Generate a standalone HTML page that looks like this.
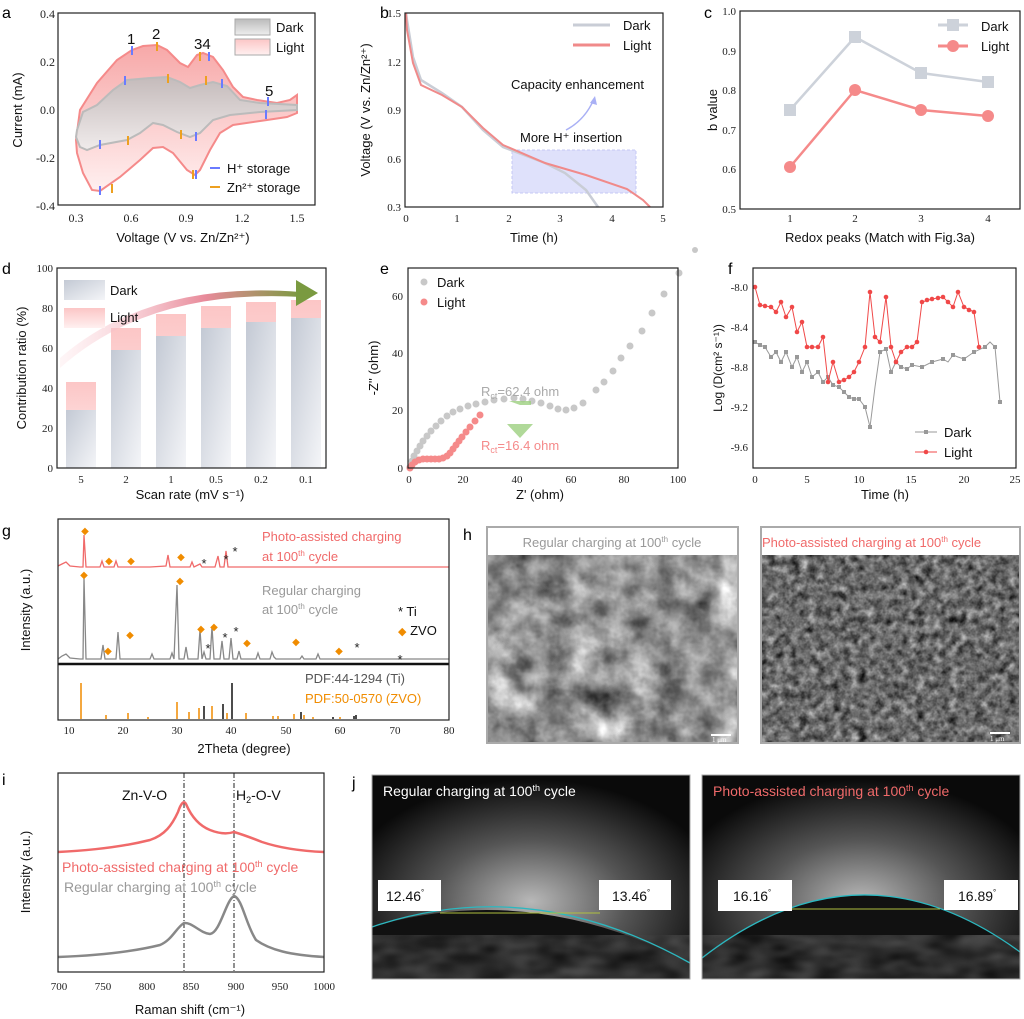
<!DOCTYPE html>
<html><head><meta charset="utf-8"><style>
body{margin:0;background:#fff}
svg{display:block}
.t{font-family:"Liberation Serif",serif;font-size:12px;fill:#222}
.s{font-family:"Liberation Sans",sans-serif;font-size:13px;fill:#111}
.L{font-family:"Liberation Sans",sans-serif;font-size:16px;fill:#000}
</style></head><body>
<svg width="1024" height="1019" viewBox="0 0 1024 1019" xmlns="http://www.w3.org/2000/svg">
<defs>
<linearGradient id="gd" x1="0" y1="0" x2="0" y2="1"><stop offset="0" stop-color="#bbb"/><stop offset="1" stop-color="#eee"/></linearGradient>
<linearGradient id="gl" x1="0" y1="0" x2="0" y2="1"><stop offset="0" stop-color="#f7a8a8"/><stop offset="1" stop-color="#fff0f0"/></linearGradient>
<linearGradient id="bd" x1="0" y1="0" x2="1" y2="1"><stop offset="0" stop-color="#c3c9d4"/><stop offset="1" stop-color="#f4f5f8"/></linearGradient>
<linearGradient id="bl" x1="0" y1="0" x2="0" y2="1"><stop offset="0" stop-color="#fcc6c6"/><stop offset="1" stop-color="#fff0f0"/></linearGradient>
<linearGradient id="arr" x1="0" y1="0" x2="1" y2="0"><stop offset="0" stop-color="#fde0e4" stop-opacity="0.3"/><stop offset="0.6" stop-color="#e88a9a"/><stop offset="1" stop-color="#7a9a40"/></linearGradient>
<radialGradient id="glow" cx="0.5" cy="0.62" r="0.6"><stop offset="0" stop-color="#b8b8b8"/><stop offset="0.5" stop-color="#555"/><stop offset="1" stop-color="#0a0a0a"/></radialGradient>
<filter id="sem1" x="0" y="0" width="1" height="1" color-interpolation-filters="sRGB"><feTurbulence type="fractalNoise" baseFrequency="0.035" numOctaves="4" seed="3"/><feColorMatrix type="matrix" values="0.33 0.33 0.33 0 0 0.33 0.33 0.33 0 0 0.33 0.33 0.33 0 0 0 0 0 0 1"/><feComponentTransfer><feFuncR type="linear" slope="1.6" intercept="-0.22"/><feFuncG type="linear" slope="1.6" intercept="-0.22"/><feFuncB type="linear" slope="1.6" intercept="-0.22"/></feComponentTransfer></filter>
<filter id="sem2" x="0" y="0" width="1" height="1" color-interpolation-filters="sRGB"><feTurbulence type="fractalNoise" baseFrequency="0.12" numOctaves="3" seed="7"/><feColorMatrix type="matrix" values="0.33 0.33 0.33 0 0 0.33 0.33 0.33 0 0 0.33 0.33 0.33 0 0 0 0 0 0 1"/><feComponentTransfer><feFuncR type="linear" slope="1.5" intercept="-0.33"/><feFuncG type="linear" slope="1.5" intercept="-0.33"/><feFuncB type="linear" slope="1.5" intercept="-0.33"/></feComponentTransfer></filter>
<filter id="blob" x="0" y="0" width="1" height="1" color-interpolation-filters="sRGB"><feTurbulence type="fractalNoise" baseFrequency="0.03 0.06" numOctaves="2" seed="5"/><feColorMatrix type="matrix" values="0.3 0.3 0.3 0 -0.2 0.3 0.3 0.3 0 -0.2 0.3 0.3 0.3 0 -0.2 0 0 0 0 1"/></filter>
<clipPath id="ca"><rect x="58" y="13" width="257" height="192"/></clipPath>
</defs>

<!-- ===== a ===== -->
<text class="L" x="2" y="18">a</text>
<path clip-path="url(#ca)" d="M76,140 L80,110 97,83 117,60 132,50 143,46 157,45 167,50 180,63 188,67 197,55 203,53 213,57 223,70 233,87 243,97 257,100 277,103 290,100 297,95 297,113 287,117 267,120 233,125 220,133 210,150 200,170 195,175 187,170 173,153 163,147 153,148 140,160 120,177 100,191 92,190 83,173 77,153Z" fill="url(#gl)" stroke="#f58a8a" stroke-width="2"/>
<path d="M77,130 L83,112 97,105 113,90 127,80 150,78 167,77 180,82 190,88 200,85 213,82 227,86 240,100 260,103 297,105 297,110 260,112 230,115 213,120 200,133 190,137 177,132 163,125 153,123 140,133 127,140 100,145 87,150 80,147 76,137Z" fill="url(#gd)" fill-opacity="0.85" stroke="#bbb" stroke-width="2"/>
<g stroke="#6a7bff" stroke-width="2">
<path d="M132,46v9M125,76v9M209,52v9M222,79v9M268,97v9M266,110v9M100,140v9M196,132v9M100,186v9M196,170v9"/></g>
<g stroke="#eda020" stroke-width="2">
<path d="M157,42v9M168,74v9M200,52v9M206,76v9M128,136v9M181,130v9M112,184v9M193,170v9"/></g>
<rect x="58" y="13" width="257" height="192" fill="none" stroke="#222" stroke-width="1.2"/>
<text class="s" x="127" y="44" style="font-size:15px">1</text><text class="s" x="152" y="39" style="font-size:15px">2</text>
<text class="s" x="194" y="49" style="font-size:15px">34</text><text class="s" x="265" y="96" style="font-size:15px">5</text>
<rect x="235" y="19" width="35" height="16" fill="url(#gd)" stroke="#aaa"/><rect x="235" y="39" width="35" height="16" fill="url(#bl)" stroke="#aaa"/>
<text class="s" x="276" y="32">Dark</text><text class="s" x="276" y="52">Light</text>
<path d="M210,168h10" stroke="#6a7bff" stroke-width="2"/><path d="M210,187h10" stroke="#eda020" stroke-width="2"/>
<text class="s" x="227" y="173">H⁺ storage</text><text class="s" x="227" y="192">Zn²⁺ storage</text>
<g class="t" text-anchor="end"><text x="55" y="18">0.4</text><text x="55" y="66">0.2</text><text x="55" y="114">0.0</text><text x="55" y="162">-0.2</text><text x="55" y="210">-0.4</text></g>
<g class="t" text-anchor="middle"><text x="76" y="222">0.3</text><text x="131" y="222">0.6</text><text x="186" y="222">0.9</text><text x="242" y="222">1.2</text><text x="297" y="222">1.5</text></g>
<text class="s" x="183" y="242" text-anchor="middle">Voltage (V  vs. Zn/Zn²⁺)</text>
<text class="s" transform="translate(22,110) rotate(-90)" text-anchor="middle">Current (mA)</text>

<!-- ===== b ===== -->
<text class="L" x="380" y="18">b</text>
<rect x="512" y="150" width="124" height="43" fill="#dfe1fb" stroke="#c4c8f4" stroke-dasharray="3,2"/>
<polyline points="406,13 407,20 413,57 421,80 442,93 462,107 483,130 503,147 545,163 565,173 586,190 598,207" fill="none" stroke="#c9cdd6" stroke-width="2.5"/>
<polyline points="406,13 407,30 413,63 421,85 442,95 462,107 483,128 503,145 545,163 586,175 627,189 643,200 650,207" fill="none" stroke="#f08a8a" stroke-width="2"/>
<path d="M566,130 Q585,120 594,99" fill="none" stroke="#a9b0f5" stroke-width="1.5"/><path d="M590,103 L595,96 597,105Z" fill="#a9b0f5"/>
<rect x="405" y="13" width="258" height="194" fill="none" stroke="#222" stroke-width="1.2"/>
<path d="M573,25h37" stroke="#c9cdd6" stroke-width="3"/><path d="M573,45h37" stroke="#f08a8a" stroke-width="3"/>
<text class="s" x="623" y="30">Dark</text><text class="s" x="623" y="50">Light</text>
<text class="s" x="511" y="89">Capacity enhancement</text><text class="s" x="520" y="142">More H⁺ insertion</text>
<g class="t" text-anchor="end" style="font-size:11px"><text x="401" y="17">1.5</text><text x="401" y="66">1.2</text><text x="401" y="114">0.9</text><text x="401" y="163">0.6</text><text x="401" y="211">0.3</text></g>
<g class="t" text-anchor="middle" style="font-size:11px"><text x="406" y="222">0</text><text x="457" y="222">1</text><text x="509" y="222">2</text><text x="560" y="222">3</text><text x="612" y="222">4</text><text x="663" y="222">5</text></g>
<text class="s" x="534" y="242" text-anchor="middle">Time (h)</text>
<text class="s" transform="translate(370,110) rotate(-90)" text-anchor="middle">Voltage (V vs. Zn/Zn²⁺)</text>

<!-- ===== c ===== -->
<text class="L" x="704" y="18">c</text>
<rect x="740" y="11" width="280" height="198" fill="none" stroke="#222" stroke-width="1.2"/>
<polyline points="790,110 855,37 921,73 988,82" fill="none" stroke="#cdd2da" stroke-width="2.5"/>
<g fill="#cdd2da"><rect x="784" y="104" width="12" height="12"/><rect x="849" y="31" width="12" height="12"/><rect x="915" y="67" width="12" height="12"/><rect x="982" y="76" width="12" height="12"/></g>
<polyline points="790,167 855,90 921,110 988,116" fill="none" stroke="#f58a8a" stroke-width="2.5"/>
<g fill="#f58a8a"><circle cx="790" cy="167" r="6"/><circle cx="855" cy="90" r="6"/><circle cx="921" cy="110" r="6"/><circle cx="988" cy="116" r="6"/></g>
<path d="M938,25h30" stroke="#cdd2da" stroke-width="3"/><rect x="947" y="19" width="12" height="12" fill="#cdd2da"/>
<path d="M938,46h30" stroke="#f58a8a" stroke-width="3"/><circle cx="953" cy="46" r="6" fill="#f58a8a"/>
<text class="s" x="981" y="31">Dark</text><text class="s" x="981" y="51">Light</text>
<g class="t" text-anchor="end" style="font-size:11px"><text x="736" y="15">1.0</text><text x="736" y="55">0.9</text><text x="736" y="94">0.8</text><text x="736" y="134">0.7</text><text x="736" y="173">0.6</text><text x="736" y="213">0.5</text></g>
<g class="t" text-anchor="middle" style="font-size:11px"><text x="790" y="222">1</text><text x="855" y="222">2</text><text x="921" y="222">3</text><text x="988" y="222">4</text></g>
<text class="s" x="880" y="242" text-anchor="middle">Redox peaks (Match with Fig.3a)</text>
<text class="s" transform="translate(717,110) rotate(-90)" text-anchor="middle">b value</text>

<!-- ===== d ===== -->
<text class="L" x="2" y="274">d</text>
<g>
<rect x="66" y="382" width="30" height="86" fill="url(#bl)"/><rect x="66" y="410" width="30" height="58" fill="url(#bd)"/>
<rect x="111" y="328" width="30" height="140" fill="url(#bl)"/><rect x="111" y="350" width="30" height="118" fill="url(#bd)"/>
<rect x="156" y="314" width="30" height="154" fill="url(#bl)"/><rect x="156" y="336" width="30" height="132" fill="url(#bd)"/>
<rect x="201" y="306" width="30" height="162" fill="url(#bl)"/><rect x="201" y="328" width="30" height="140" fill="url(#bd)"/>
<rect x="246" y="302" width="30" height="166" fill="url(#bl)"/><rect x="246" y="322" width="30" height="146" fill="url(#bd)"/>
<rect x="291" y="300" width="30" height="168" fill="url(#bl)"/><rect x="291" y="318" width="30" height="150" fill="url(#bd)"/>
</g>
<path d="M60,358 Q150,280 300,292 L302,297 Q150,288 60,368Z" fill="url(#arr)"/>
<path d="M296,280 L318,293 296,306Z" fill="#7a9a40"/>
<rect x="64" y="280" width="41" height="20" fill="url(#bd)"/><rect x="64" y="308" width="41" height="20" fill="url(#bl)"/>
<text class="s" x="110" y="295">Dark</text><text class="s" x="110" y="322">Light</text>
<rect x="57" y="268" width="269" height="200" fill="none" stroke="#222" stroke-width="1.2"/>
<g class="t" text-anchor="end" style="font-size:11px"><text x="53" y="272">100</text><text x="53" y="312">80</text><text x="53" y="352">60</text><text x="53" y="392">40</text><text x="53" y="432">20</text><text x="53" y="472">0</text></g>
<g class="t" text-anchor="middle" style="font-size:11px"><text x="81" y="483">5</text><text x="126" y="483">2</text><text x="171" y="483">1</text><text x="216" y="483">0.5</text><text x="261" y="483">0.2</text><text x="306" y="483">0.1</text></g>
<text class="s" x="190" y="499" text-anchor="middle">Scan rate (mV s⁻¹)</text>
<text class="s" transform="translate(26,368) rotate(-90)" text-anchor="middle">Contribution ratio (%)</text>

<!-- ===== e ===== -->
<text class="L" x="380" y="274">e</text>
<g fill="#c8c8c8">
<circle cx="410" cy="467" r="3.5"/><circle cx="412" cy="461" r="3.5"/><circle cx="414" cy="456" r="3.5"/><circle cx="417" cy="451" r="3.5"/><circle cx="420" cy="446" r="3.5"/><circle cx="423" cy="441" r="3.5"/><circle cx="427" cy="436" r="3.5"/><circle cx="431" cy="431" r="3.5"/><circle cx="436" cy="426" r="3.5"/><circle cx="441" cy="421" r="3.5"/><circle cx="447" cy="416" r="3.5"/><circle cx="453" cy="412" r="3.5"/><circle cx="460" cy="409" r="3.5"/><circle cx="468" cy="406" r="3.5"/><circle cx="476" cy="404" r="3.5"/><circle cx="485" cy="402" r="3.5"/><circle cx="494" cy="400" r="3.5"/><circle cx="504" cy="399" r="3.5"/><circle cx="514" cy="398" r="3.5"/><circle cx="523" cy="399" r="3.5"/><circle cx="532" cy="401" r="3.5"/><circle cx="541" cy="403" r="3.5"/><circle cx="550" cy="406" r="3.5"/><circle cx="558" cy="409" r="3.5"/><circle cx="566" cy="410" r="3.5"/><circle cx="574" cy="408" r="3.5"/><circle cx="583" cy="403" r="3.5"/><circle cx="596" cy="390" r="3.5"/><circle cx="604" cy="382" r="3.5"/><circle cx="613" cy="371" r="3.5"/><circle cx="621" cy="358" r="3.5"/><circle cx="630" cy="346" r="3.5"/><circle cx="642" cy="331" r="3.5"/><circle cx="652" cy="313" r="3.5"/><circle cx="664" cy="294" r="3.5"/><circle cx="679" cy="273" r="3.5"/><circle cx="695" cy="250" r="3"/>
</g>
<g fill="#f58a8a">
<circle cx="410" cy="468" r="3.5"/><circle cx="412" cy="465" r="3.5"/><circle cx="415" cy="462" r="3.5"/><circle cx="419" cy="460" r="3.5"/><circle cx="423" cy="459" r="3.5"/><circle cx="427" cy="459" r="3.5"/><circle cx="431" cy="459" r="3.5"/><circle cx="435" cy="459" r="3.5"/><circle cx="439" cy="459" r="3.5"/><circle cx="443" cy="458" r="3.5"/><circle cx="447" cy="456" r="3.5"/><circle cx="450" cy="453" r="3.5"/><circle cx="453" cy="449" r="3.5"/><circle cx="456" cy="445" r="3.5"/><circle cx="459" cy="441" r="3.5"/><circle cx="462" cy="437" r="3.5"/><circle cx="466" cy="432" r="3.5"/><circle cx="470" cy="427" r="3.5"/><circle cx="475" cy="421" r="3.5"/><circle cx="480" cy="415" r="3.5"/>
</g>
<path d="M509,401h22v4l-11,0z M507,424 h26 l-13,14z" fill="#9ccf80" opacity="0.8"/>
<rect x="408" y="268" width="270" height="200" fill="none" stroke="#222" stroke-width="1.2"/>
<circle cx="424" cy="282" r="3.5" fill="#c8c8c8"/><circle cx="424" cy="302" r="3.5" fill="#f58a8a"/>
<text class="s" x="437" y="287">Dark</text><text class="s" x="437" y="307">Light</text>
<text class="s" x="481" y="396" style="fill:#aaa">R<tspan font-size="9" dy="3">ct</tspan><tspan dy="-3">=62.4 ohm</tspan></text>
<text class="s" x="481" y="450" style="fill:#f58a8a">R<tspan font-size="9" dy="3">ct</tspan><tspan dy="-3">=16.4 ohm</tspan></text>
<g class="t" text-anchor="end" style="font-size:11px"><text x="403" y="300">60</text><text x="403" y="357">40</text><text x="403" y="414">20</text><text x="403" y="472">0</text></g>
<g class="t" text-anchor="middle" style="font-size:11px"><text x="409" y="483">0</text><text x="463" y="483">20</text><text x="517" y="483">40</text><text x="571" y="483">60</text><text x="624" y="483">80</text><text x="678" y="483">100</text></g>
<text class="s" x="540" y="499" text-anchor="middle">Z' (ohm)</text>
<text class="s" transform="translate(378,368) rotate(-90)" text-anchor="middle">-Z'' (ohm)</text>

<!-- ===== f ===== -->
<text class="L" x="728" y="274">f</text>
<polyline fill="none" stroke="#999" stroke-width="1" points="755,342 760,345 765,347 771,357 776,352 781,362 786,352 792,367 797,357 802,372 807,362 812,377 818,372 823,382 828,377 833,385 839,387 844,392 849,397 854,399 859,399 865,407 870,427 875,387 880,352 886,349 891,372 896,362 901,367 907,369 912,365 922,367 932,362 943,359 948,362 953,355 958,357 964,359 974,352 985,347 990,342 995,347 1000,402"/>
<g fill="#999"><rect x="753" y="340" width="4" height="4"/><rect x="758" y="343" width="4" height="4"/><rect x="763" y="345" width="4" height="4"/><rect x="769" y="355" width="4" height="4"/><rect x="774" y="350" width="4" height="4"/><rect x="779" y="360" width="4" height="4"/><rect x="784" y="350" width="4" height="4"/><rect x="790" y="365" width="4" height="4"/><rect x="795" y="355" width="4" height="4"/><rect x="800" y="370" width="4" height="4"/><rect x="805" y="360" width="4" height="4"/><rect x="810" y="375" width="4" height="4"/><rect x="816" y="370" width="4" height="4"/><rect x="821" y="380" width="4" height="4"/><rect x="826" y="375" width="4" height="4"/><rect x="831" y="383" width="4" height="4"/><rect x="837" y="385" width="4" height="4"/><rect x="842" y="390" width="4" height="4"/><rect x="847" y="395" width="4" height="4"/><rect x="852" y="397" width="4" height="4"/><rect x="857" y="397" width="4" height="4"/><rect x="863" y="405" width="4" height="4"/><rect x="868" y="425" width="4" height="4"/><rect x="878" y="350" width="4" height="4"/><rect x="884" y="347" width="4" height="4"/><rect x="889" y="370" width="4" height="4"/><rect x="894" y="360" width="4" height="4"/><rect x="899" y="365" width="4" height="4"/><rect x="905" y="367" width="4" height="4"/><rect x="910" y="363" width="4" height="4"/><rect x="920" y="365" width="4" height="4"/><rect x="930" y="360" width="4" height="4"/><rect x="941" y="357" width="4" height="4"/><rect x="951" y="353" width="4" height="4"/><rect x="962" y="357" width="4" height="4"/><rect x="972" y="350" width="4" height="4"/><rect x="983" y="345" width="4" height="4"/><rect x="993" y="345" width="4" height="4"/><rect x="998" y="400" width="4" height="4"/></g>
<polyline fill="none" stroke="#f04848" stroke-width="1" points="755,287 760,305 771,307 776,312 781,302 786,317 792,307 797,332 802,322 807,347 818,347 823,337 828,382 833,362 839,382 844,380 849,377 854,372 859,362 865,347 870,292 875,337 880,342 886,297 891,347 896,362 901,352 907,347 912,347 917,342 922,302 932,299 943,297 948,302 953,307 958,292 964,307 974,312 979,347"/>
<g fill="#f04848"><circle cx="755" cy="287" r="2.3"/><circle cx="760" cy="305" r="2.3"/><circle cx="765" cy="306" r="2.3"/><circle cx="771" cy="307" r="2.3"/><circle cx="776" cy="312" r="2.3"/><circle cx="781" cy="302" r="2.3"/><circle cx="786" cy="317" r="2.3"/><circle cx="792" cy="307" r="2.3"/><circle cx="797" cy="332" r="2.3"/><circle cx="802" cy="322" r="2.3"/><circle cx="807" cy="347" r="2.3"/><circle cx="812" cy="347" r="2.3"/><circle cx="818" cy="347" r="2.3"/><circle cx="823" cy="337" r="2.3"/><circle cx="828" cy="382" r="2.3"/><circle cx="833" cy="362" r="2.3"/><circle cx="839" cy="382" r="2.3"/><circle cx="844" cy="380" r="2.3"/><circle cx="849" cy="377" r="2.3"/><circle cx="854" cy="372" r="2.3"/><circle cx="859" cy="362" r="2.3"/><circle cx="865" cy="347" r="2.3"/><circle cx="870" cy="292" r="2.3"/><circle cx="875" cy="337" r="2.3"/><circle cx="880" cy="342" r="2.3"/><circle cx="886" cy="297" r="2.3"/><circle cx="891" cy="347" r="2.3"/><circle cx="896" cy="362" r="2.3"/><circle cx="901" cy="352" r="2.3"/><circle cx="907" cy="347" r="2.3"/><circle cx="912" cy="347" r="2.3"/><circle cx="917" cy="342" r="2.3"/><circle cx="922" cy="302" r="2.3"/><circle cx="927" cy="300" r="2.3"/><circle cx="932" cy="299" r="2.3"/><circle cx="938" cy="298" r="2.3"/><circle cx="943" cy="297" r="2.3"/><circle cx="948" cy="302" r="2.3"/><circle cx="953" cy="307" r="2.3"/><circle cx="958" cy="292" r="2.3"/><circle cx="964" cy="307" r="2.3"/><circle cx="969" cy="310" r="2.3"/><circle cx="974" cy="312" r="2.3"/><circle cx="979" cy="347" r="2.3"/></g>
<rect x="753" y="268" width="263" height="200" fill="none" stroke="#222" stroke-width="1.2"/>
<path d="M915,432h22" stroke="#999"/><rect x="924" y="430" width="4" height="4" fill="#999"/>
<path d="M915,452h22" stroke="#f04848"/><circle cx="926" cy="452" r="2.3" fill="#f04848"/>
<text class="s" x="944" y="437">Dark</text><text class="s" x="944" y="457">Light</text>
<g class="t" text-anchor="end" style="font-size:11px"><text x="748" y="291">-8.0</text><text x="748" y="331">-8.4</text><text x="748" y="371">-8.8</text><text x="748" y="411">-9.2</text><text x="748" y="451">-9.6</text></g>
<g class="t" text-anchor="middle" style="font-size:11px"><text x="755" y="483">0</text><text x="807" y="483">5</text><text x="859" y="483">10</text><text x="911" y="483">15</text><text x="964" y="483">20</text><text x="1015" y="483">25</text></g>
<text class="s" x="885" y="499" text-anchor="middle">Time (h)</text>
<text class="s" transform="translate(722,368) rotate(-90)" text-anchor="middle" style="font-size:12px">Log (D(cm² s⁻¹))</text>

<!-- ===== g ===== -->
<text class="L" x="2" y="536">g</text>
<polyline fill="none" stroke="#f06a6a" stroke-width="1.3" points="58,566 62,564 66,562 70,566 80,567 83,567 84,535 86,567 100,567 102,561 104,567 114,567 116,561 118,567 150,567 166,566 168,555 170,567 190,567 192,562 194,567 200,564 202,567 215,567 218,556 220,567 224,567 226,551 228,567 260,567 449,567"/>
<polyline fill="none" stroke="#888" stroke-width="1.3" points="58,659 62,656 66,654 70,658 80,659 83,659 84,578 86,659 101,659 103,645 105,659 116,659 118,632 120,659 150,659 152,654 154,659 170,659 172,653 174,659 177,585 179,659 184,659 186,647 188,659 198,659 200,630 202,659 204,652 206,659 210,659 212,627 214,659 220,659 222,641 224,659 229,659 231,638 233,659 237,659 239,651 241,659 256,659 258,653 260,659 270,659 272,652 274,657 276,659 300,659 302,656 304,659 316,659 318,654 320,659 449,659"/>
<path d="M58,664h391" stroke="#111" stroke-width="2.5"/>
<g stroke="#f08c00" stroke-width="1.5"><path d="M81,719V683M106,719v-4M128,719v-6M148,719v-2M177,719V702M189,719v-7M199,719v-11M212,719v-13M227,719v-6M246,719v-6M273,719v-3M278,719v-3M294,719v-5M304,719v-4M313,719v-2M340,719v-2"/></g>
<g stroke="#111" stroke-width="1.5"><path d="M204,719v-13M223,719v-15M232,719V683M301,719v-7M333,719v-2M354,719v-3M356,719v-4"/></g>
<g fill="#f08c00" font-family="Liberation Sans" font-size="10" text-anchor="middle"><text x="85" y="534">◆</text><text x="109" y="564">◆</text><text x="131" y="564">◆</text><text x="181" y="560">◆</text><text x="84" y="578">◆</text><text x="108" y="654">◆</text><text x="130" y="638">◆</text><text x="180" y="584">◆</text><text x="201" y="632">◆</text><text x="214" y="630">◆</text><text x="247" y="646">◆</text><text x="296" y="645">◆</text><text x="339" y="654">◆</text></g>
<g fill="#222" font-family="Liberation Sans" font-size="13" text-anchor="middle"><text x="204" y="568">*</text><text x="226" y="564">*</text><text x="235" y="556">*</text><text x="208" y="653">*</text><text x="225" y="642">*</text><text x="236" y="636">*</text><text x="357" y="652">*</text><text x="400" y="664">*</text></g>
<rect x="58" y="519" width="391" height="201" fill="none" stroke="#222" stroke-width="1.2"/>
<text class="s" x="262" y="541" style="fill:#f06a6a">Photo-assisted charging</text>
<text class="s" x="262" y="561" style="fill:#f06a6a">at 100<tspan font-size="8" dy="-5">th</tspan><tspan dy="5"> cycle</tspan></text>
<text class="s" x="262" y="595" style="fill:#999">Regular charging</text>
<text class="s" x="262" y="614" style="fill:#999">at 100<tspan font-size="8" dy="-5">th</tspan><tspan dy="5"> cycle</tspan></text>
<text class="s" x="398" y="616">* Ti</text><text class="s" x="398" y="635"><tspan fill="#f08c00" font-size="11">◆</tspan> ZVO</text>
<text class="s" x="305" y="683" style="fill:#555">PDF:44-1294 (Ti)</text>
<text class="s" x="305" y="703" style="fill:#f08c00">PDF:50-0570 (ZVO)</text>
<g class="t" text-anchor="middle" style="font-size:11px"><text x="69" y="734">10</text><text x="123" y="734">20</text><text x="177" y="734">30</text><text x="231" y="734">40</text><text x="286" y="734">50</text><text x="340" y="734">60</text><text x="395" y="734">70</text><text x="449" y="734">80</text></g>
<text class="s" x="244" y="753" text-anchor="middle">2Theta (degree)</text>
<text class="s" transform="translate(30,610) rotate(-90)" text-anchor="middle">Intensity (a.u.)</text>

<!-- ===== h ===== -->
<text class="L" x="463" y="540">h</text>
<rect x="487" y="555" width="251" height="188" fill="#999" filter="url(#sem1)"/>
<rect x="487" y="527" width="251" height="28" fill="#fff"/>
<rect x="487" y="527" width="251" height="216" fill="none" stroke="#aaa" stroke-width="2"/>
<text class="s" x="612" y="547" text-anchor="middle" style="fill:#999">Regular charging at 100<tspan font-size="8" dy="-5">th</tspan><tspan dy="5"> cycle</tspan></text>
<path d="M711,735h20" stroke="#fff" stroke-width="2"/><text x="712" y="742" font-family="Liberation Serif" font-size="7" fill="#fff">1 μm</text>
<rect x="761" y="555" width="259" height="188" fill="#777" filter="url(#sem2)"/>
<rect x="761" y="527" width="259" height="28" fill="#fff"/>
<rect x="761" y="527" width="259" height="216" fill="none" stroke="#aaa" stroke-width="2"/>
<text class="s" x="762" y="547" style="fill:#f06a6a">Photo-assisted charging at 100<tspan font-size="8" dy="-5">th</tspan><tspan dy="5"> cycle</tspan></text>
<path d="M990,733h20" stroke="#fff" stroke-width="2"/><text x="990" y="741" font-family="Liberation Serif" font-size="7" fill="#fff">1 μm</text>

<!-- ===== i ===== -->
<text class="L" x="2" y="785">i</text>
<path d="M184,773V972M234,773V972" stroke="#222" stroke-dasharray="5,2,1,2" stroke-width="1"/>
<path d="M58,852 C100,850 130,845 150,840 C165,835 172,825 178,812 C181,803 184,800 186,804 C192,818 200,826 210,830 C220,834 228,834 234,832 C244,835 252,838 262,842 C280,848 300,851 324,852" fill="none" stroke="#f06a6a" stroke-width="2.5"/>
<path d="M58,957 C110,955 140,950 160,945 C172,940 176,928 184,923 C192,922 200,933 210,934 C220,933 226,900 234,896 C242,898 246,925 256,940 C270,950 290,955 324,957" fill="none" stroke="#888" stroke-width="2.5"/>
<rect x="58" y="773" width="266" height="199" fill="none" stroke="#222" stroke-width="1.2"/>
<text class="s" x="122" y="800" style="font-size:14px">Zn-V-O</text>
<text class="s" x="236" y="800" style="font-size:14px">H<tspan font-size="9" dy="3">2</tspan><tspan dy="-3">-O-V</tspan></text>
<text class="s" x="62" y="872" style="fill:#f06a6a;font-size:14px">Photo-assisted charging at 100<tspan font-size="9" dy="-5">th</tspan><tspan dy="5"> cycle</tspan></text>
<text class="s" x="64" y="892" style="fill:#999;font-size:14px">Regular charging at 100<tspan font-size="9" dy="-5">th</tspan><tspan dy="5"> cycle</tspan></text>
<g class="t" text-anchor="middle" style="font-size:11px"><text x="59" y="990">700</text><text x="103" y="990">750</text><text x="147" y="990">800</text><text x="191" y="990">850</text><text x="236" y="990">900</text><text x="280" y="990">950</text><text x="324" y="990">1000</text></g>
<text class="s" x="190" y="1014" text-anchor="middle">Raman shift (cm⁻¹)</text>
<text class="s" transform="translate(30,872) rotate(-90)" text-anchor="middle">Intensity (a.u.)</text>

<!-- ===== j ===== -->
<text class="L" x="352" y="788">j</text>
<g>
<rect x="372" y="775" width="318" height="204" fill="url(#glow)"/>
<path d="M372,927 Q530,880 690,963 V979 H372Z" fill="#111"/>
<rect x="372" y="935" width="318" height="44" fill="#888" filter="url(#blob)" opacity="0.6"/>
<path d="M372,927 Q530,873 690,963" fill="none" stroke="#2cb8c0" stroke-width="1.3"/>
<path d="M440,913 H600" stroke="#b0c040" stroke-width="1"/>
<rect x="372" y="775" width="318" height="204" fill="none" stroke="#aaa"/>
<text class="s" x="383" y="796" style="fill:#fff;font-size:14px">Regular charging at 100<tspan font-size="9" dy="-5">th</tspan><tspan dy="5"> cycle</tspan></text>
<rect x="378" y="880" width="63" height="31" fill="#fff"/><text class="s" x="386" y="901" style="font-size:14px">12.46<tspan font-size="8" dy="-6">°</tspan></text>
<rect x="599" y="880" width="72" height="30" fill="#fff"/><text class="s" x="612" y="901" style="font-size:14px">13.46<tspan font-size="8" dy="-6">°</tspan></text>
</g>
<g>
<rect x="702" y="775" width="318" height="204" fill="url(#glow)"/>
<path d="M702,958 Q860,835 1020,952 V979 H702Z" fill="#111"/>
<rect x="702" y="935" width="318" height="44" fill="#888" filter="url(#blob)" opacity="0.6"/>
<path d="M702,958 Q860,835 1020,952" fill="none" stroke="#2cb8c0" stroke-width="1.3"/>
<path d="M790,909 H940" stroke="#b0c040" stroke-width="1"/>
<rect x="702" y="775" width="318" height="204" fill="none" stroke="#aaa"/>
<text class="s" x="713" y="796" style="fill:#f06a6a;font-size:14px">Photo-assisted charging at 100<tspan font-size="9" dy="-5">th</tspan><tspan dy="5"> cycle</tspan></text>
<rect x="718" y="880" width="74" height="31" fill="#fff"/><text class="s" x="733" y="901" style="font-size:14px">16.16<tspan font-size="8" dy="-6">°</tspan></text>
<rect x="944" y="880" width="74" height="30" fill="#fff"/><text class="s" x="958" y="901" style="font-size:14px">16.89<tspan font-size="8" dy="-6">°</tspan></text>
</g>
</svg>
</body></html>
